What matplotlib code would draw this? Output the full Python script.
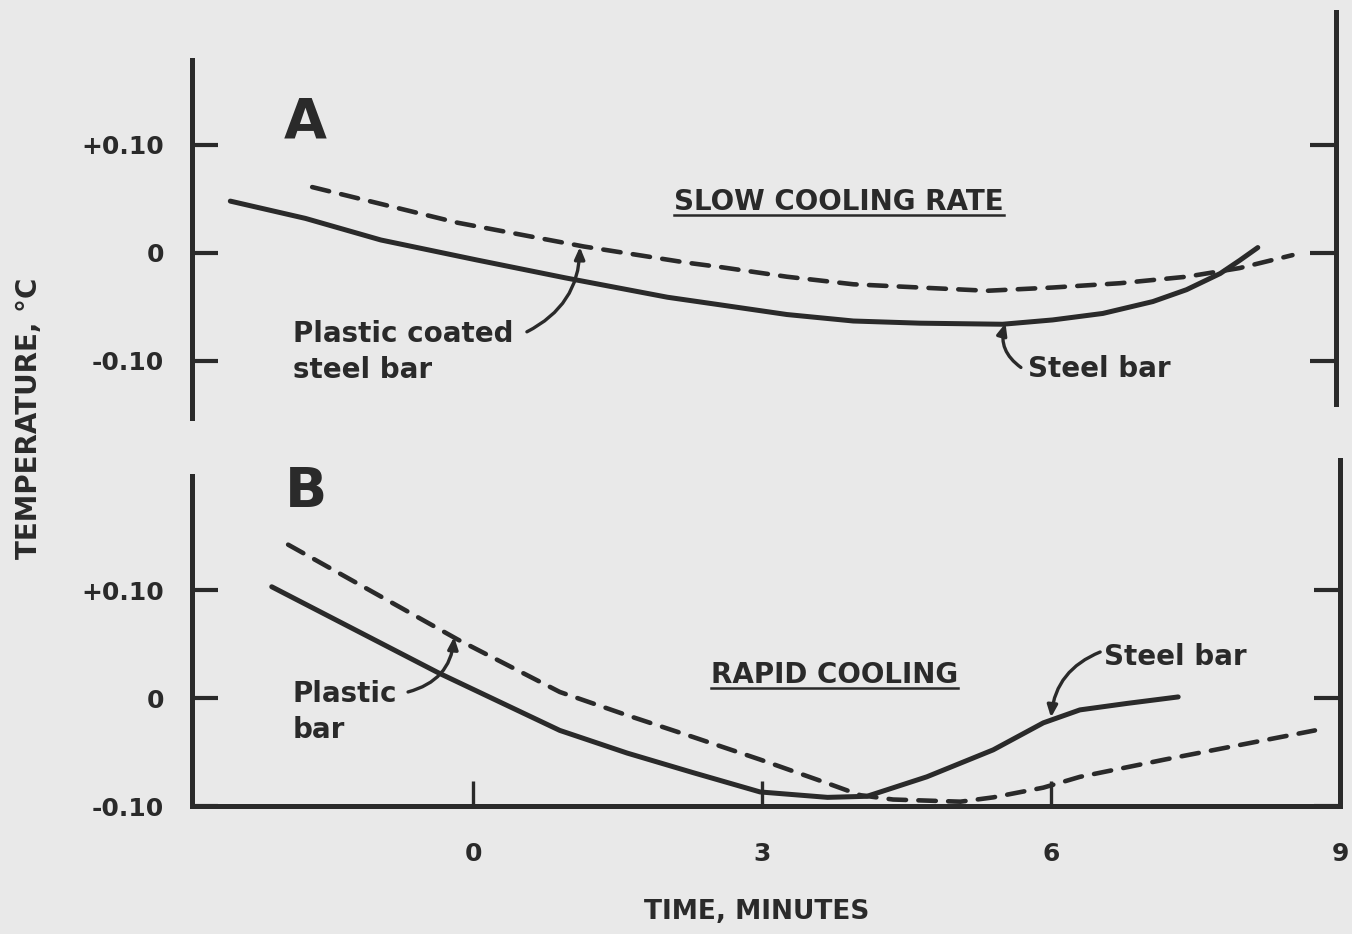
import matplotlib
matplotlib.use("Agg")
import matplotlib.pyplot as plt
from matplotlib.lines import Line2D

plt.rcParams['font.family'] = ['DejaVu Sans']
plt.rcParams['font.weight'] = 'bold'

INK = '#2a2a2a'
BG = '#e9e9e9'

# ---------------- data (time in minutes, temperature in deg C) ----------------
# Panel A - slow cooling rate
a_steel_x = [-2.52, -1.74, -0.956, 0.04, 0.956, 2.02, 2.565, 3.26, 3.95, 4.64, 5.50,
             6.02, 6.54, 7.06, 7.41, 7.76, 7.96, 8.15]
a_steel_y = [0.048, 0.032, 0.012, -0.0065, -0.023, -0.041, -0.048, -0.057, -0.063, -0.065,
             -0.066, -0.062, -0.056, -0.045, -0.034, -0.019, -0.007, 0.005]
a_coated_x = [-1.67, -0.16, 1.15, 2.22, 2.565, 3.26, 3.95, 4.64, 5.34, 6.02, 6.72,
              7.41, 7.96, 8.51]
a_coated_y = [0.061, 0.028, 0.006, -0.009, -0.013, -0.022, -0.029, -0.032, -0.035, -0.032,
              -0.028, -0.022, -0.014, -0.002]

# Panel B - rapid cooling
b_steel_x = [-2.09, -0.353, 0.90, 1.60, 2.28, 2.98, 3.68, 4.09, 4.71, 5.40, 5.92, 6.30,
             6.79, 7.32]
b_steel_y = [0.103, 0.023, -0.030, -0.051, -0.069, -0.087, -0.092, -0.091, -0.073, -0.048,
             -0.023, -0.011, -0.005, 0.001]
b_plastic_x = [-1.92, -0.156, 0.90, 1.60, 2.28, 2.98, 3.68, 4.02, 4.36, 5.06, 5.40, 5.92,
               6.30, 7.18, 8.74]
b_plastic_y = [0.142, 0.054, 0.0056, -0.016, -0.036, -0.057, -0.079, -0.090, -0.094, -0.096,
               -0.092, -0.083, -0.073, -0.057, -0.030]

y_ticks = [0.10, 0.0, -0.10]
y_tick_labels = ['+0.10', '0', '-0.10']
x_ticks = [0, 3, 6, 9]
x_tick_labels = ['0', '3', '6', '9']

# ---------------- figure ----------------
W, H = 1352, 934
fig = plt.figure(figsize=(W / 100, H / 100), dpi=100, facecolor=BG)

def fx(px):
    return px / W

def fy(py):
    return 1 - py / H

axA = fig.add_axes([fx(191.8), fy(418), fx(1336) - fx(191.8), fy(12) - fy(418)])
axB = fig.add_axes([fx(191.8), fy(806), fx(1340) - fx(191.8), fy(460) - fy(806)])

axA.set_xlim(-2.92, 8.962)
axA.set_ylim(-0.1528, 0.2231)
axB.set_xlim(-2.92, 9.0)
axB.set_ylim(-0.10, 0.2204)

for ax in (axA, axB):
    ax.set_facecolor('none')
    ax.spines['top'].set_visible(False)
    for s in ('left', 'right', 'bottom'):
        ax.spines[s].set_linewidth(3.6)
        ax.spines[s].set_color(INK)
    ax.set_yticks(y_ticks)
    ax.set_yticklabels(y_tick_labels)
    ax.tick_params(axis='y', direction='in', length=19, width=3, color=INK,
                   left=True, right=True, labelleft=True, labelright=False,
                   pad=20, labelsize=18, labelcolor=INK)

axA.spines['bottom'].set_visible(False)
axA.spines['left'].set_bounds(-0.1528, 0.1787)
axA.spines['right'].set_bounds(-0.1398, 0.2231)
axA.set_xticks([])

axB.spines['left'].set_bounds(-0.10, 0.206)
axB.spines['right'].set_bounds(-0.10, 0.2204)
axB.set_xticks(x_ticks)
axB.set_xticklabels(x_tick_labels)
axB.tick_params(axis='x', direction='in', length=18, width=2.4, color=INK,
                pad=26, labelsize=18, labelcolor=INK)

solid_kw = dict(color=INK, lw=3.6, solid_capstyle='round', solid_joinstyle='round',
                clip_on=False, zorder=3)
dash_kw = dict(color=INK, lw=3.3, dashes=(3.8, 2.7), dash_capstyle='round',
               dash_joinstyle='round', clip_on=False, zorder=3)

axA.plot(a_steel_x, a_steel_y, **solid_kw)
axA.plot(a_coated_x, a_coated_y, **dash_kw)
axB.plot(b_steel_x, b_steel_y, **solid_kw)
axB.plot(b_plastic_x, b_plastic_y, **dash_kw)

txt_kw = dict(color=INK, fontsize=20, fontweight='bold', ha='left', va='baseline')

# Panel letters
axA.text(-1.97, 0.1065, 'A', color=INK, fontsize=40, fontweight='heavy',
         ha='left', va='baseline')
axB.text(-1.95, 0.1769, 'B', color=INK, fontsize=40, fontweight='heavy',
         ha='left', va='baseline')

# Panel A annotations
tA = axA.text(2.09, 0.0398, 'SLOW COOLING RATE', **txt_kw)
axA.text(-1.87, -0.0824, 'Plastic coated', **txt_kw)
axA.text(-1.87, -0.1157, 'steel bar', **txt_kw)
axA.text(5.76, -0.1148, 'Steel bar', **txt_kw)

arrow_kw = dict(arrowstyle='-|>,head_length=0.7,head_width=0.3', color=INK, lw=2.4,
                shrinkA=0, shrinkB=0)
axA.annotate('', xy=(1.11, 0.0056), xytext=(0.56, -0.073),
             arrowprops=dict(connectionstyle='arc3,rad=0.3', **arrow_kw))
axA.annotate('', xy=(5.53, -0.065), xytext=(5.69, -0.106),
             arrowprops=dict(connectionstyle='arc3,rad=-0.35', **arrow_kw))

# Panel B annotations
tB = axB.text(2.47, 0.0139, 'RAPID COOLING', **txt_kw)
axB.text(-1.87, -0.0037, 'Plastic', **txt_kw)
axB.text(-1.87, -0.037, 'bar', **txt_kw)
axB.text(6.55, 0.0306, 'Steel bar', **txt_kw)
axB.annotate('', xy=(-0.197, 0.0565), xytext=(-0.675, 0.0056),
             arrowprops=dict(connectionstyle='arc3,rad=0.35', **arrow_kw))
axB.annotate('', xy=(6.0, -0.018), xytext=(6.51, 0.0426),
             arrowprops=dict(connectionstyle='arc3,rad=0.3', **arrow_kw))

# Axis titles
fig.text(fx(29), fy(418), 'TEMPERATURE, °C', rotation=90, color=INK, fontsize=20,
         fontweight='bold', ha='center', va='center')
fig.text(fx(757), fy(912), 'TIME, MINUTES', color=INK, fontsize=19,
         fontweight='bold', ha='center', va='center')

# Underlines for the panel titles
fig.canvas.draw()
r = fig.canvas.get_renderer()
for t, ax in ((tA, axA), (tB, axB)):
    bb = t.get_window_extent(r)
    _, ybase = ax.transData.transform(t.get_position())
    yline = (ybase - 5) / H
    fig.add_artist(Line2D([bb.x0 / W, bb.x1 / W], [yline, yline],
                          color=INK, lw=1.8, transform=fig.transFigure))

fig.savefig('out.png', dpi=100, facecolor=BG)
